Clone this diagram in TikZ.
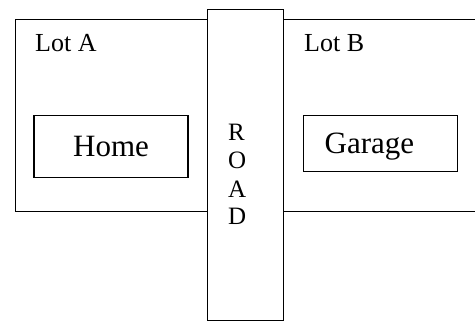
\documentclass[tikz,border=0pt]{standalone}
\usepackage{fontspec}
\setmainfont{Liberation Serif}
\begin{document}
\begin{tikzpicture}[x=1pt,y=-1pt,
  heavy/.style={draw, line width=1.3pt, inner sep=0pt},
  light/.style={line width=0.9pt},
  lotlabel/.style={anchor=base west, inner sep=0pt, font=\fontsize{26}{29}\selectfont},
  roadletter/.style={anchor=base west, inner sep=0pt, font=\fontsize{25}{28}\selectfont},
  bldg/.style={draw, line width=1.4pt, inner sep=0pt, font=\fontsize{31}{35}\selectfont}]
\useasboundingbox (0,0) rectangle (475,321);
% Lot A
\node[heavy, anchor=north west, minimum width=192pt, minimum height=192pt] (lotA) at (15,19) {};
% Road
\node[heavy, anchor=north west, minimum width=76pt, minimum height=311pt, fill=white] (road) at (207,9) {};
% Lot B boundary lines
\coordinate (bTopEnd) at (475,19);
\coordinate (bBotEnd) at (475,211);
\draw[light] (road.east |- bTopEnd) -- (bTopEnd);
\draw[light] (road.east |- bBotEnd) -- (bBotEnd);
% Labels
\node[lotlabel] (lblA) at (35,52) {Lot A};
\node[lotlabel] (lblB) at (304,52) {Lot B};
% Buildings
\node[bldg, minimum width=154pt, minimum height=62pt] (home) at (111,146.5) {Home};
\node[bldg, anchor=north west, minimum height=56pt, text width=154pt, align=left, text depth=0pt] (garage) at (303,115) {\hspace*{21pt}Garage};
% Road letters
\node[roadletter] (r1) at (228,141) {R};
\node[roadletter] (r2) at (228,169) {O};
\node[roadletter] (r3) at (228,197) {A};
\node[roadletter] (r4) at (228,225) {D};
\end{tikzpicture}
\end{document}
